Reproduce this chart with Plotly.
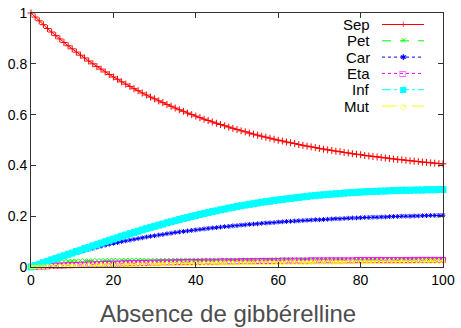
import plotly.graph_objects as go

# time steps 0..100
steps = list(range(101))

sep = [1.000, .984, .969, .954, .939, .925, .911, .898, .884, .871,
       .859, .846, .834, .823, .811, .800, .789, .779, .768, .758,
       .748, .739, .729, .720, .711, .702, .694, .685, .677, .669,
       .662, .654, .647, .640, .633, .626, .619, .613, .606, .600,
       .594, .588, .582, .577, .571, .566, .561, .556, .551, .546,
       .541, .536, .532, .527, .523, .519, .515, .511, .507, .503,
       .499, .496, .492, .489, .486, .482, .479, .476, .473, .470,
       .467, .464, .461, .459, .456, .454, .451, .449, .446, .444,
       .442, .439, .437, .435, .433, .431, .429, .427, .425, .423,
       .422, .420, .418, .417, .415, .413, .412, .410, .409, .407,
       .406]

pet = [0, .005, .009, .013, .016, .018, .020, .021, .022, .023,
       .024, .024, .025, .025, .025, .026, .026, .026, .026, .026,
       .027, .027, .027, .027, .027, .027, .027, .027, .027, .027,
       .027, .027, .027, .027, .027, .028, .028, .028, .028, .028,
       .028, .028, .028, .028, .028, .028, .028, .028, .028, .028,
       .028, .028, .028, .028, .028, .028, .028, .028, .028, .028,
       .029, .029, .029, .029, .029, .029, .029, .029, .029, .029,
       .029, .029, .029, .029, .029, .029, .029, .029, .029, .029,
       .029, .029, .029, .029, .029, .029, .029, .029, .029, .029,
       .030, .030, .030, .030, .030, .030, .030, .030, .030, .030,
       .030]

car = [0, .006, .012, .017, .023, .028, .034, .039, .044, .048,
       .053, .058, .062, .066, .070, .074, .078, .082, .086, .090,
       .093, .096, .100, .103, .106, .109, .112, .115, .118, .121,
       .123, .126, .128, .131, .133, .136, .138, .140, .142, .144,
       .146, .148, .150, .152, .154, .155, .157, .159, .160, .162,
       .163, .165, .166, .168, .169, .170, .172, .173, .174, .175,
       .177, .178, .179, .180, .181, .182, .183, .184, .185, .186,
       .186, .187, .188, .189, .190, .190, .191, .192, .193, .193,
       .194, .195, .195, .196, .196, .197, .197, .198, .199, .199,
       .200, .200, .200, .201, .201, .202, .202, .203, .203, .203,
       .204]

eta = [0, .001, .002, .002, .003, .004, .005, .005, .006, .007,
       .007, .008, .009, .009, .010, .010, .011, .011, .012, .012,
       .013, .013, .014, .014, .015, .015, .015, .016, .016, .017,
       .017, .017, .018, .018, .018, .019, .019, .019, .020, .020,
       .020, .020, .021, .021, .021, .021, .022, .022, .022, .022,
       .022, .023, .023, .023, .023, .023, .024, .024, .024, .024,
       .024, .025, .025, .025, .025, .025, .025, .025, .026, .026,
       .026, .026, .026, .026, .026, .026, .026, .026, .026, .027,
       .027, .027, .027, .027, .027, .027, .027, .027, .027, .027,
       .027, .027, .027, .028, .028, .028, .028, .028, .028, .028,
       .028]

inf = [0, .006, .011, .017, .022, .028, .033, .039, .044, .050,
       .055, .061, .066, .072, .077, .083, .088, .094, .099, .105,
       .110, .115, .121, .126, .131, .136, .141, .146, .151, .156,
       .160, .165, .169, .174, .178, .182, .187, .191, .195, .199,
       .203, .207, .211, .214, .218, .221, .225, .228, .232, .235,
       .238, .241, .244, .247, .249, .252, .255, .257, .259, .262,
       .264, .266, .268, .270, .272, .274, .276, .278, .280, .281,
       .283, .284, .286, .287, .288, .289, .291, .292, .293, .294,
       .295, .296, .297, .297, .298, .299, .299, .300, .301, .301,
       .302, .302, .302, .303, .303, .303, .304, .304, .304, .305,
       .305]

mut = [0, .000, .001, .001, .002, .002, .003, .003, .004, .004,
       .005, .005, .005, .006, .006, .006, .007, .007, .007, .008,
       .008, .008, .009, .009, .009, .010, .010, .010, .010, .011,
       .011, .011, .012, .012, .012, .012, .013, .013, .013, .013,
       .014, .014, .014, .014, .014, .015, .015, .015, .015, .015,
       .016, .016, .016, .016, .016, .016, .017, .017, .017, .017,
       .017, .017, .018, .018, .018, .018, .018, .018, .019, .019,
       .019, .019, .019, .019, .019, .019, .020, .020, .020, .020,
       .020, .020, .020, .020, .021, .021, .021, .021, .021, .021,
       .021, .021, .021, .021, .022, .022, .022, .022, .022, .022,
       .022]

names = ["Sep", "Pet", "Car", "Eta", "Inf", "Mut"]
series = [sep, pet, car, eta, inf, mut]
colors = ["#ff0000", "#00ff00", "#0000ff", "#ff00ff", "#00ffff", "#ffff00"]
dashes = ["solid", "dash", "dot", "dot", "dashdot", "longdashdot"]
symbols = ["cross-thin-open", "x-thin-open", "asterisk-open", "square-open", "square", "circle-open"]
sizes = [5, 4, 4, 5, 6, 4]
key_glyphs = ["+", "×", "✱", "□", "■", "○"]

fig = go.Figure()
for name, ys, c, d, s, sz in zip(names, series, colors, dashes, symbols, sizes):
    fig.add_trace(go.Scatter(
        x=steps, y=ys, name=name, mode="lines+markers",
        line=dict(color=c, width=1, dash=d),
        marker=dict(symbol=s, size=sz, color=c, line=dict(color=c, width=1)),
        cliponaxis=False, showlegend=False))

# gnuplot style key: label right-aligned, then line sample with marker
px_l, px_t, pw, ph = 31, 13, 412, 254
def xp(px):
    return (px - px_l) / pw
def yp(py):
    return (px_t + ph - py) / ph

for i, (name, c, d, g) in enumerate(zip(names, colors, dashes, key_glyphs)):
    row = 24.5 + 16.3 * i
    fig.add_annotation(x=xp(372), y=yp(row), xref="paper", yref="paper",
                       text=name, showarrow=False, xanchor="right", yanchor="middle",
                       font=dict(size=15, color="black"))
    fig.add_shape(type="line", xref="paper", yref="paper",
                  x0=xp(382), x1=xp(424), y0=yp(row), y1=yp(row),
                  line=dict(color=c, width=1, dash=d))
    fig.add_annotation(x=xp(403), y=yp(row), xref="paper", yref="paper",
                       text=g, showarrow=False, xanchor="center", yanchor="middle",
                       font=dict(size=8, color=c, family="DejaVu Sans"))

fig.add_annotation(x=xp(228), y=yp(313), xref="paper", yref="paper",
                   text="Absence de gibbérelline", showarrow=False,
                   xanchor="center", yanchor="middle",
                   font=dict(size=24, color="#4d4d4d"))

axis_style = dict(showline=True, linecolor="#333333", linewidth=1, mirror="ticks",
                  ticks="inside", ticklen=5, tickcolor="#333333",
                  showgrid=False, zeroline=False, automargin=False,
                  tickfont=dict(size=14, color="black"))
fig.update_xaxes(range=[0, 100], tickvals=[0, 20, 40, 60, 80, 100], **axis_style)
fig.update_yaxes(range=[0, 1], tickvals=[0, 0.2, 0.4, 0.6, 0.8, 1], **axis_style)

fig.update_layout(width=461, height=328,
                  margin=dict(l=31, r=18, t=13, b=61),
                  paper_bgcolor="white", plot_bgcolor="white",
                  font=dict(family="Liberation Sans, Arial, sans-serif"))

# drop the default page margin so the figure sits at the window's corner
fig.write_html("out.html", config={"displayModeBar": False},
               post_script="document.body.style.margin='0';")
